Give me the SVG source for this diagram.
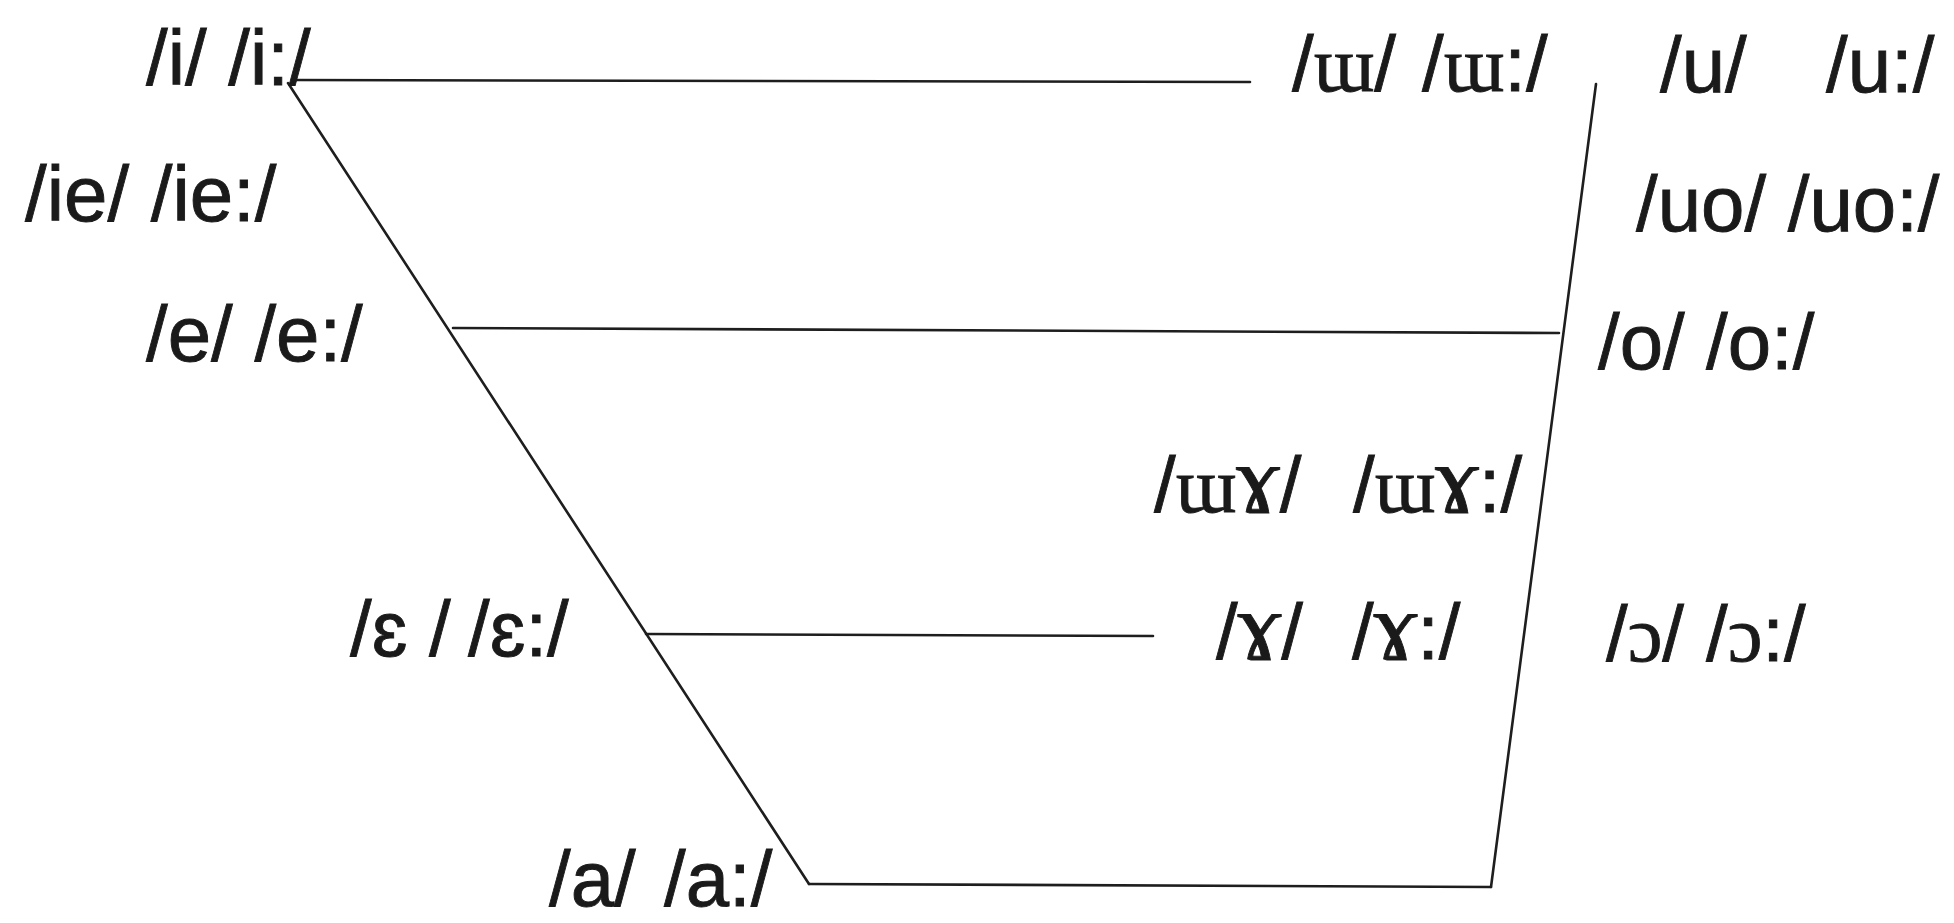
<svg xmlns="http://www.w3.org/2000/svg" width="1954" height="923" viewBox="0 0 1954 923">
<style>
.bg{fill:#ffffff}
.ln{stroke:#1e1e1e;stroke-width:2.6;fill:none;stroke-linecap:round}
.lb{font-family:"Liberation Sans","DejaVu Sans",Arial,sans-serif;font-size:78px;fill:#1a1a1a;stroke:#1a1a1a;stroke-width:0.9}
.ipa{font-family:"Liberation Serif","DejaVu Serif","Times New Roman",serif}
.ram{font-family:"Liberation Serif","DejaVu Serif","Times New Roman",serif;font-size:98px}
</style>
<rect class="bg" x="0" y="0" width="1954" height="923"/>
<g id="connectors">
<line class="ln" x1="292" y1="80" x2="1250" y2="82"/>
<line class="ln" x1="288" y1="83" x2="809" y2="884"/>
<line class="ln" x1="453" y1="328" x2="1559" y2="333"/>
<line class="ln" x1="646" y1="634" x2="1153" y2="636"/>
<line class="ln" x1="809" y1="884" x2="1491" y2="887"/>
<line class="ln" x1="1596" y1="84" x2="1491" y2="887"/>
</g>
<g id="node-i"><text class="lb" x="146" y="85">/i/ /i:/</text></g>
<g id="node-ie"><text class="lb" x="25" y="221">/ie/ /ie:/</text></g>
<g id="node-e"><text class="lb" x="146" y="361">/e/ /e:/</text></g>
<g id="node-epsilon"><text class="lb" y="656"><tspan x="350">/ɛ /</tspan><tspan x="468">/ɛ:/</tspan></text></g>
<g id="node-a"><text class="lb" y="906"><tspan x="549">/a/</tspan><tspan x="664">/a:/</tspan></text></g>
<g id="node-unrounded-high"><text class="lb" y="91"><tspan x="1292">/<tspan class="ipa">ɯ</tspan>/</tspan><tspan x="1422">/<tspan class="ipa">ɯ</tspan>:/</tspan></text></g>
<g id="node-u"><text class="lb" y="92"><tspan x="1660">/u/</tspan><tspan x="1826">/u:/</tspan></text></g>
<g id="node-uo"><text class="lb" x="1636" y="231">/uo/ /uo:/</text></g>
<g id="node-o"><text class="lb" y="369"><tspan x="1598">/o/</tspan><tspan x="1706">/o:/</tspan></text></g>
<g id="node-unrounded-diphthong"><text class="lb" y="512"><tspan x="1154">/<tspan class="ipa">ɯ</tspan><tspan class="ram">ɤ</tspan>/</tspan><tspan x="1353">/<tspan class="ipa">ɯ</tspan><tspan class="ram">ɤ</tspan>:/</tspan></text></g>
<g id="node-ramshorn"><text class="lb" y="659"><tspan x="1216">/<tspan class="ram">ɤ</tspan>/</tspan><tspan x="1352">/<tspan class="ram">ɤ</tspan>:/</tspan></text></g>
<g id="node-open-o"><text class="lb" y="661"><tspan x="1606">/<tspan class="ipa">ɔ</tspan>/</tspan><tspan x="1706">/<tspan class="ipa">ɔ</tspan>:/</tspan></text></g>
</svg>
